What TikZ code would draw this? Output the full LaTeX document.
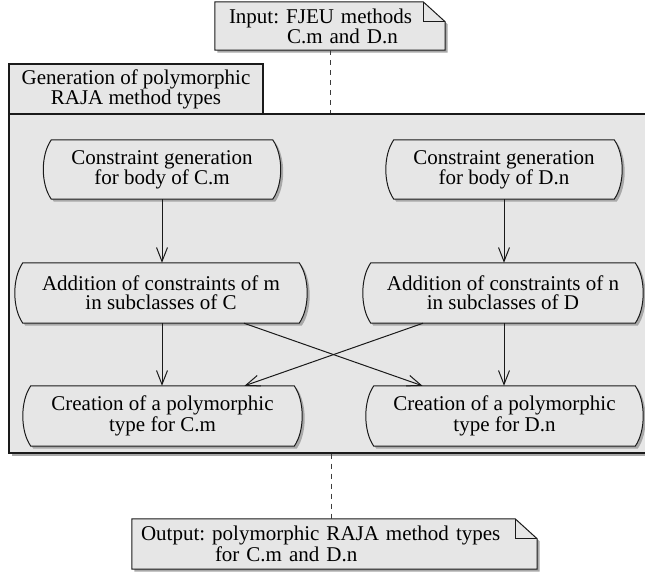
\documentclass[tikz,border=0pt]{standalone}
\usepackage{fontspec}
\setmainfont{Liberation Serif}
\usetikzlibrary{arrows.meta,calc}
\definecolor{boxfill}{HTML}{E6E6E6}
\definecolor{edgec}{HTML}{1A1A1A}
\definecolor{shadec}{HTML}{A8A8A8}
\pgfdeclarelayer{bg}
\pgfdeclarelayer{mid}
\pgfsetlayers{bg,mid,main}
\frenchspacing

\newcommand{\pillshape}[2]{% #1 = style, #2 = node name
  \path[#1] ([xshift=8pt]#2.north west) -- ([xshift=-8pt]#2.north east)
    .. controls ([xshift=2.67pt,yshift=-15pt]#2.north east) and ([xshift=2.67pt,yshift=15pt]#2.south east) .. ([xshift=-8pt]#2.south east)
    -- ([xshift=8pt]#2.south west)
    .. controls ([xshift=-2.67pt,yshift=15pt]#2.south west) and ([xshift=-2.67pt,yshift=-15pt]#2.north west) .. ([xshift=8pt]#2.north west) -- cycle;}
\newcommand{\drawpill}[1]{%
  \begin{scope}[transform canvas={shift={(2.5pt,-2.5pt)}}]\pillshape{fill=shadec}{#1}\end{scope}
  \pillshape{fill=boxfill,draw=edgec,line width=1pt}{#1}}
\newcommand{\noteshape}[2]{%
  \path[#1] (#2.north west) -- ([xshift=-22pt]#2.north east) -- ([yshift=-20pt]#2.north east) -- (#2.south east) -- (#2.south west) -- cycle;}
\newcommand{\drawnote}[1]{%
  \begin{scope}[transform canvas={shift={(2.5pt,-2.5pt)}}]\noteshape{fill=shadec}{#1}\end{scope}
  \noteshape{fill=boxfill,draw=edgec,line width=1pt}{#1}
  \draw[edgec,line width=1pt] ([xshift=-22pt]#1.north east) |- ([yshift=-20pt]#1.north east);}

\tikzset{
  txt/.style={font={\fontsize{21}{19}\selectfont}},
  pill/.style={txt,minimum height=60pt,inner sep=0pt,align=center},
  notebox/.style={txt,align=left,inner ysep=0pt},
  arr/.style={edgec,line width=1pt,-{Straight Barb[length=14pt,width=11pt]}},
  dashline/.style={edgec!85,line width=1pt,dash pattern=on 5pt off 5pt}
}

\begin{document}
\begin{tikzpicture}[x=1pt,y=-1pt]
\useasboundingbox (0,0) rectangle (645,574);

% partition
\begin{pgfonlayer}{bg}
  \fill[shadec] (12,117) rectangle (673,456);
  \node (pbody) [fill=boxfill,draw=edgec,line width=1.2pt,minimum width=661pt,minimum height=339pt,inner sep=0pt] at (339.5,283.5) {};
  \node (ptitle) [txt,fill=boxfill,draw=edgec,line width=1.2pt,minimum width=254pt,minimum height=50pt,inner sep=0pt,align=center] at (136,89) {Generation of polymorphic\\RAJA method types};
\end{pgfonlayer}

% notes
\node (innote) [notebox,minimum height=48pt,inner xsep=14pt,text width=202pt] at (330,26) {Input: FJEU methods\\\hspace*{58pt}C.m and D.n};
\node (outnote) [notebox,minimum height=50pt,inner xsep=9pt,text width=387pt] at (334.5,544) {Output: polymorphic RAJA method types\\\hspace*{74pt}for C.m and D.n};
\coordinate (outtop) at ([xshift=-3pt]outnote.north);

% activities
\node (C1) [pill,minimum width=237pt,minimum height=59pt] at (162,169.5) {Constraint generation\\for body of C.m};
\node (D1) [pill,minimum width=236pt,minimum height=59pt] at (504,169.5) {Constraint generation\\for body of D.n};
\node (C2) [pill,minimum width=292pt] at (161,293) {Addition of constraints of m\\in subclasses of C};
\node (D2) [pill,minimum width=280pt] at (503,293) {Addition of constraints of n\\in subclasses of D};
\node (C3) [pill,minimum width=279pt] at (162.5,416) {Creation of a polymorphic\\type for C.m};
\node (D3) [pill,minimum width=277pt] at (504.5,416) {Creation of a polymorphic\\type for D.n};

\begin{pgfonlayer}{mid}
  \drawnote{innote}
  \drawnote{outnote}
  \drawpill{C1}\drawpill{D1}\drawpill{C2}\drawpill{D2}\drawpill{C3}\drawpill{D3}
\end{pgfonlayer}

% connectors
\draw[dashline] (innote.south) -- (innote.south |- pbody.north);
\draw[dashline] (outtop |- pbody.south) -- (outtop);
\draw[arr] (C1.south) -- (C1.south |- C2.north);
\draw[arr] (D1.south) -- (D1.south |- D2.north);
\draw[arr] (C1.south |- C2.south) -- (C1.south |- C3.north);
\draw[arr] (D1.south |- D2.south) -- (D1.south |- D3.north);
\draw[arr] ([xshift=83pt]C2.south) -- ([xshift=-82pt]D3.north);
\draw[arr] ([xshift=-80pt]D2.south) -- ([xshift=82pt]C3.north);
\end{tikzpicture}
\end{document}
